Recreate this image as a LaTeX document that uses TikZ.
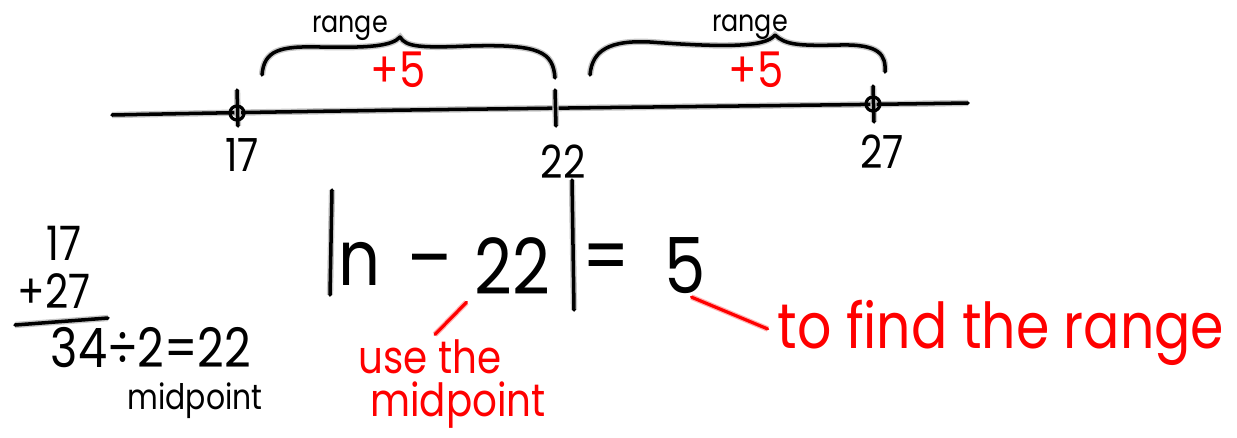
\documentclass[tikz,border=0pt]{standalone}
\usepackage{fontspec}
\setmainfont{Poppins}[FakeStretch=0.85]
\usetikzlibrary{positioning}

\begin{document}
\begin{tikzpicture}[
  x=0.02cm, y=-0.02cm,
  ink/.style={line width=2pt, line cap=round, line join=round, preaction={draw, gray!45, line width=3.6pt}},
  redink/.style={red, line width=1.8pt, line cap=round, preaction={draw, red!30, line width=3.2pt}},
  num/.style={inner sep=0pt, font=\fontsize{26}{28}\selectfont},
  rng/.style={inner sep=0pt, font=\fontsize{17}{19}\selectfont},
  plus/.style={inner sep=0pt, text=red, font=\fontsize{28}{30}\selectfont},
  calc/.style={inner sep=0pt, font=\fontsize{27}{29}\selectfont},
  eq/.style={inner sep=0pt, font=\fontsize{44}{46}\selectfont},
  note/.style={inner sep=0pt, text=red, font=\fontsize{26}{28}\selectfont},
  ptmark/.style={circle, draw, line width=1.8pt, minimum size=8pt, inner sep=0pt}
]
\useasboundingbox (0,0) rectangle (1237,437);

% number line
\draw[ink] (112,115) .. controls (400,109) and (700,107) .. (968,103);
\draw[ink] (237,90) -- (238,126);
\draw[ink] (555,90) -- (556,126);
\draw[ink] (873,86) -- (874,122);
\node[ptmark] (p17) at (237,113) {};
\node[ptmark] (p27) at (873,104) {};

\node[num] (l17) at (242,155) {17};
\node[num] (l22) at (563,162) {22};
\node[num] (l27) at (882,152) {27};

% braces
\draw[ink] (262,75) .. controls (264,50) and (280,46) .. (320,47)
  .. controls (370,48) and (392,46) .. (400,37)
  .. controls (406,47) and (420,48) .. (470,46)
  .. controls (540,44) and (553,52) .. (555,78);
\draw[ink] (590,75) .. controls (592,50) and (610,40) .. (650,42)
  .. controls (720,47) and (765,48) .. (775,35)
  .. controls (785,45) and (800,46) .. (840,45)
  .. controls (880,44) and (886,55) .. (885,72);
\node[rng] (rng1) at (350,28) {range};
\node[rng] (rng2) at (750,27) {range};
\node[plus] (pl1) at (398,70) {+5};
\node[plus] (pl2) at (756,70) {+5};

% sum of the end points
\node[calc] (a17) at (64,243) {17};
\node[calc] (a27) at (54,291) {+27};
\draw[ink] (15,325) -- (108,318);
\node[calc, font=\fontsize{31}{33}\selectfont] (sum) at (151,348) {34÷2=22};
\node[rng, font=\fontsize{20}{22}\selectfont] (mp) at (195,401) {midpoint};

% equation
\draw[ink] (332,190) -- (330,295);
\node[eq] (nv) at (360,264) {n};
\node[eq] (dash) at (430,270) {–};
\node[eq] (twotwo) at (512,266) {22};
\draw[ink] (572,180) -- (574,310);
\node[eq] (eqs) at (606,264) {=};
\node[eq] (five) at (685,266) {5};

% notes
\node[note] (usel) at (430,357) {use the};
\node[note] (usem) at (458,405) {midpoint};
\node[note, font=\fontsize{36}{38}\selectfont] (find) at (1001,333) {to find the range};
\draw[redink, shorten <=6pt, shorten >=4pt] (twotwo.south west) -- (usel.north);
\draw[redink, shorten <=4pt, shorten >=6pt] (five.south) -- (find.west);
\end{tikzpicture}
\end{document}
